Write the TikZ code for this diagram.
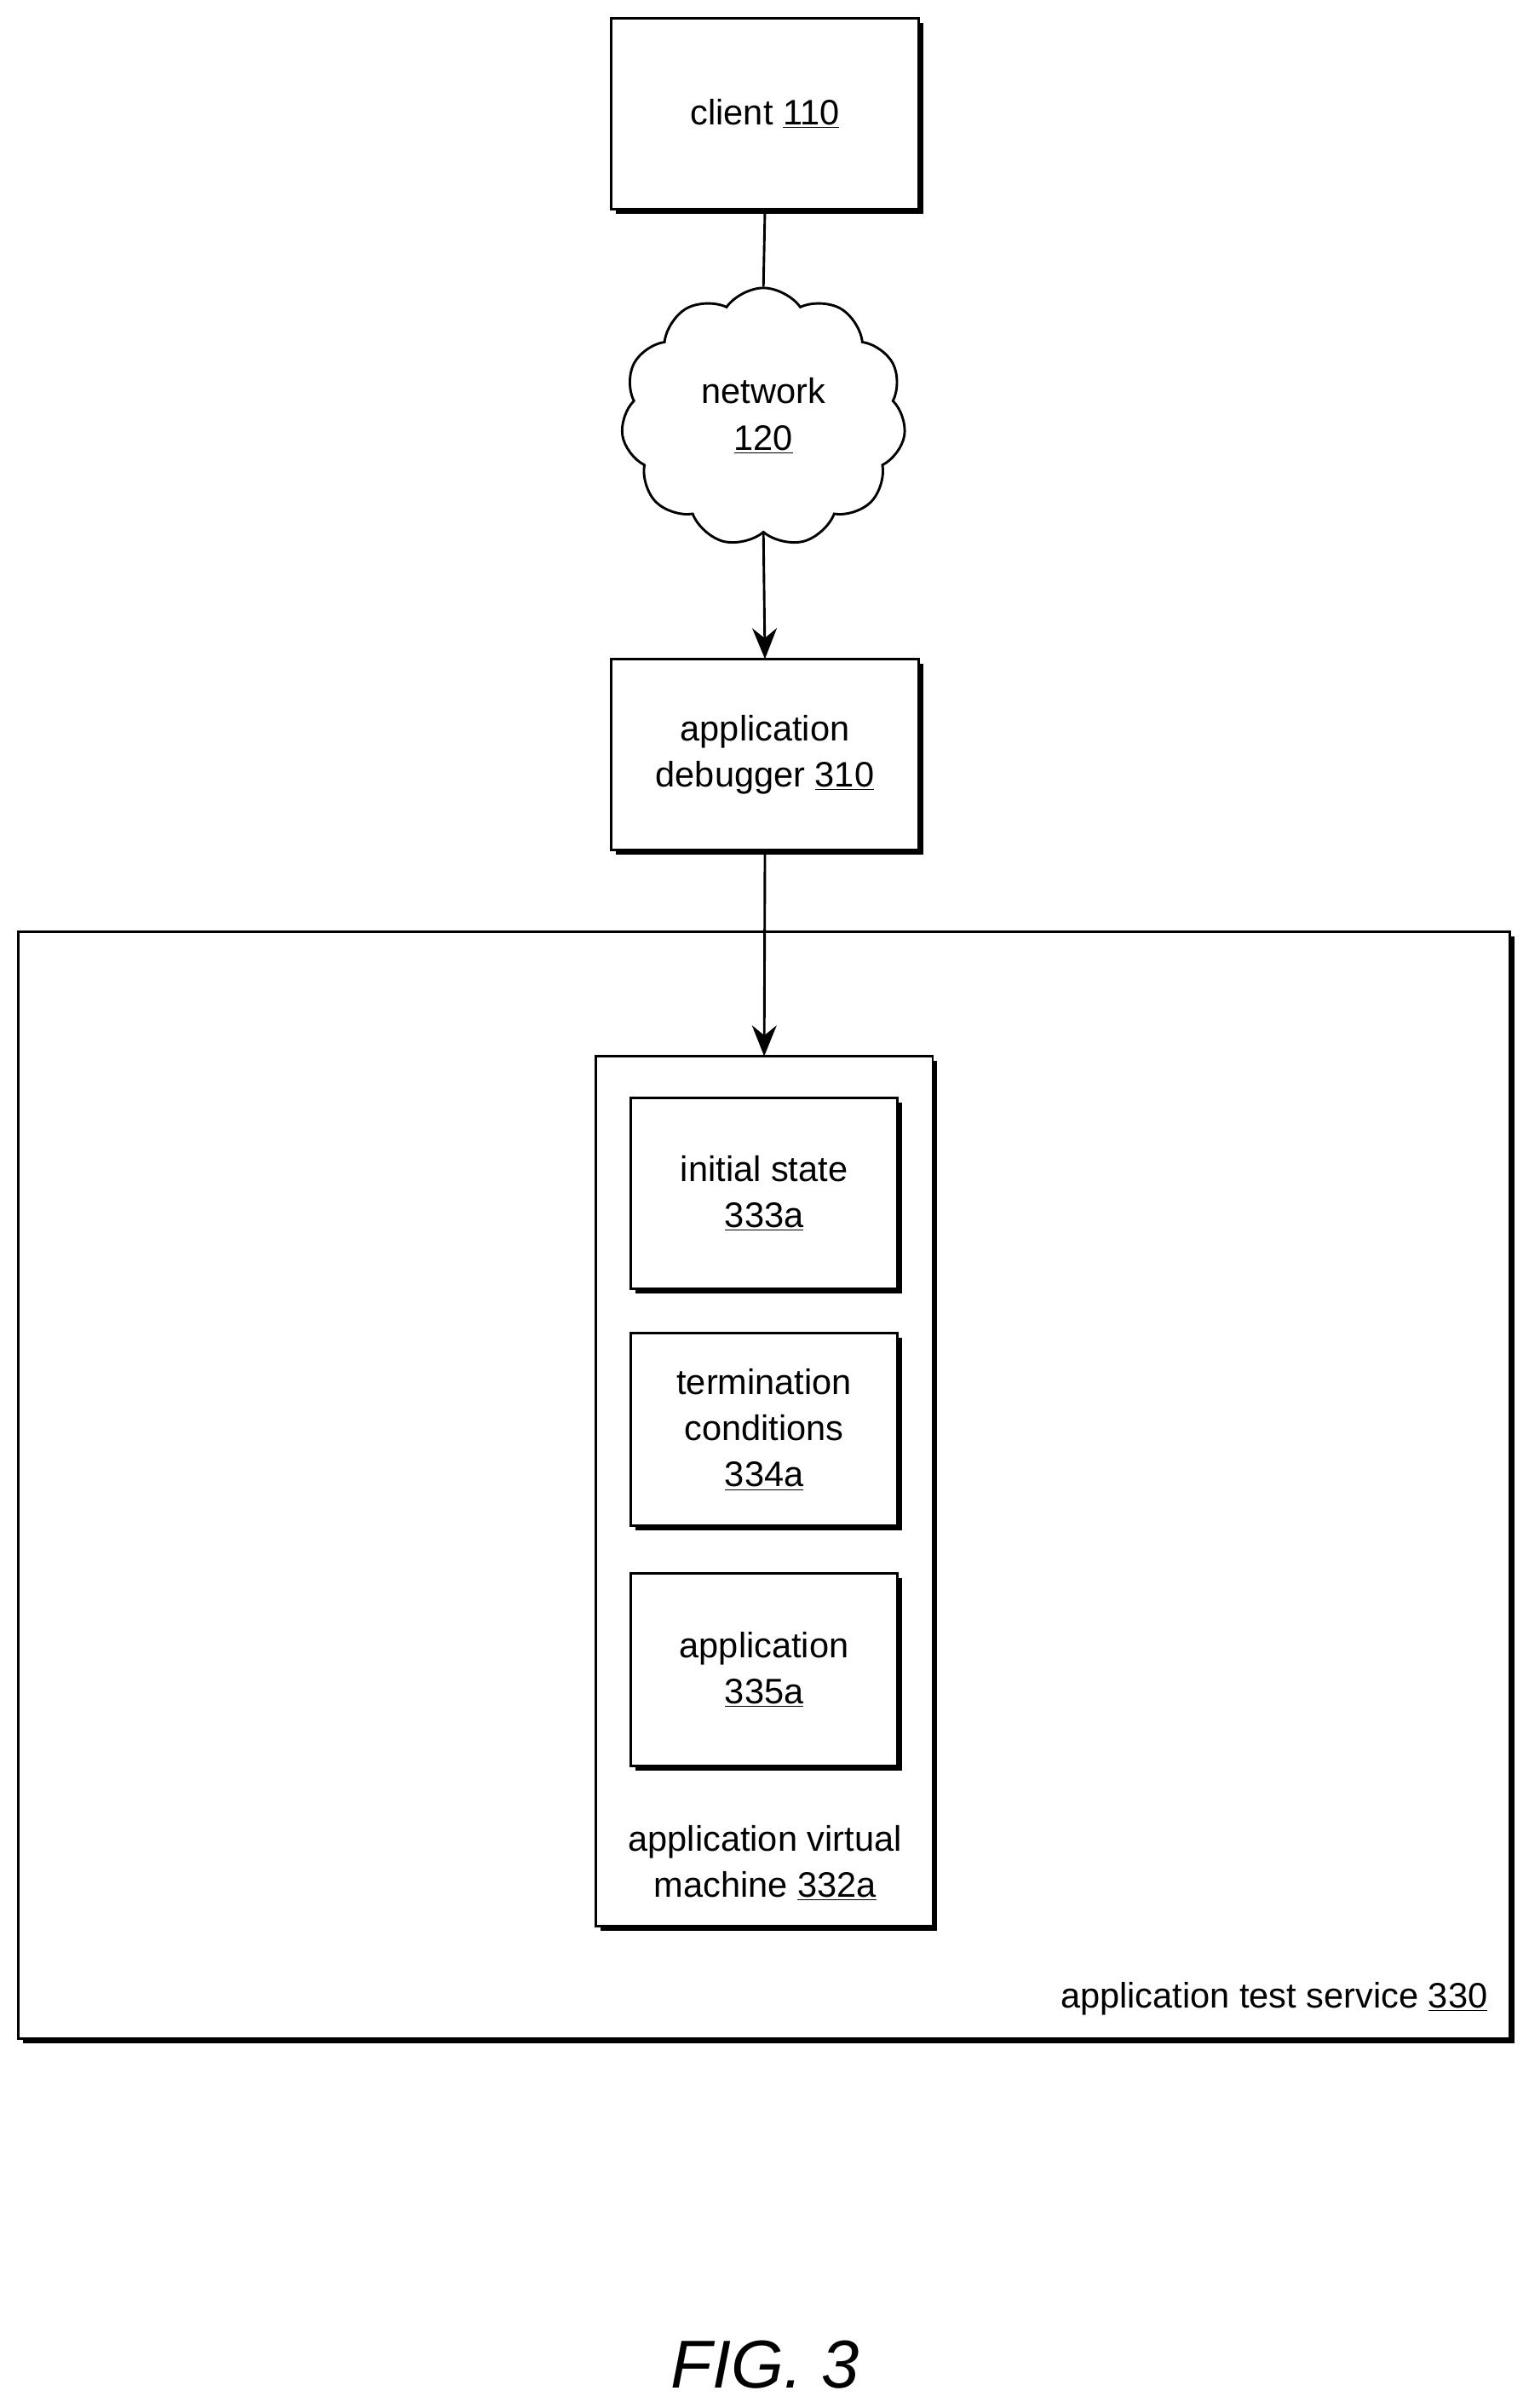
\documentclass[tikz,border=0pt]{standalone}
\usepackage{fontspec}
\setmainfont{Liberation Sans}
\usetikzlibrary{shapes.symbols,arrows.meta}
\begin{document}
\begin{tikzpicture}[x=1pt,y=-1pt,
  txt/.style={font=\fontsize{23}{30}\selectfont,align=center},
  box/.style={draw,line width=1.6pt,fill=white,inner sep=0pt},
  arr/.style={line width=1.6pt,-{Stealth[length=20pt,width=16pt]}}]
\useasboundingbox (0,0) rectangle (993,1564);
\newcommand{\shbox}[5]{% name, x1,y1,x2,y2
  \fill (#2+3,#3+3) rectangle (#4+3,#5+3);
  \draw[box] (#2,#3) rectangle (#4,#5);
  \coordinate (#1n) at ({(#2+#4)/2},#3);
  \coordinate (#1s) at ({(#2+#4)/2},#5);
  \coordinate (#1c) at ({(#2+#4)/2},{(#3+#5)/2});}
\shbox{cl}{397}{12}{597}{136}
\node[txt] (client) at (clc) {client \underline{110}};
\node[cloud,draw,line width=1.6pt,cloud puffs=11,cloud puff arc=110,minimum width=185pt,minimum height=168pt,aspect=1.1,fill=white] (net) at (496,271) {};
\node[txt] at (496,270) {network\\\underline{120}};
\shbox{db}{397}{428}{597}{552}
\node[txt] (dbg) at (dbc) {application\\debugger \underline{310}};
\shbox{ts}{12}{605}{981}{1324}
\node[txt,anchor=east] (tsl) at (970,1298) {application test service \underline{330}};
\shbox{vm}{387}{686}{606}{1251}
\node[txt] (vml) at (497,1210) {application virtual\\machine \underline{332a}};
\shbox{is}{410}{713}{583}{837}
\node[txt] (isl) at (isc) {initial state\\\underline{333a}};
\shbox{tc}{410}{866}{583}{991}
\node[txt] (tcl) at (tcc) {termination\\conditions\\\underline{334a}};
\shbox{ap}{410}{1022}{583}{1147}
\node[txt] (apl) at (apc) {application\\\underline{335a}};
\draw[line width=1.6pt] (cls) -- (net.north);
\draw[arr] (net.south) -- (dbn);
\draw[arr] (dbs) -- (vmn);
\node[font=\fontsize{44}{50}\selectfont\itshape] (fig) at (497,1536) {FIG. 3};
\end{tikzpicture}
\end{document}
